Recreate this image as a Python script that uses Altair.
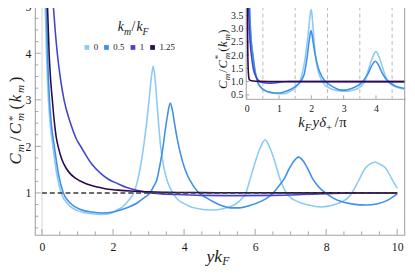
import altair as alt
import pandas as pd

# ---------------- data ----------------
k_labels = ["0", "0.5", "1", "1.25"]
k_colors = ["#8ccbf5", "#3f90e8", "#4444cc", "#2b0b48"]

# main panel: C_m/C*_m vs y k_F
main_x_k0 = [0.09, 0.13, 0.18, 0.22, 0.31, 0.42, 0.54, 0.74, 1.03, 1.35, 1.67, 1.95, 2.1, 2.25, 2.37, 2.48, 2.58, 2.69, 2.78, 2.87,
             2.96, 3.04, 3.09, 3.13, 3.17, 3.21, 3.27, 3.34, 3.43, 3.53, 3.68, 3.82, 3.98, 4.2, 4.45, 4.7, 4.95, 5.2, 5.4, 5.55,
             5.65, 5.73, 5.86, 6.0, 6.14, 6.28, 6.42, 6.56, 6.69, 6.88, 7.0, 7.15, 7.5, 7.85, 8.2, 8.49, 8.62, 8.72, 8.85, 8.95,
             9.09, 9.25, 9.39, 9.53, 9.69, 9.82, 10.0]
main_y_k0 = [5.0, 3.9, 3.0, 2.55, 1.98, 1.38, 1.0, 0.75, 0.61, 0.56, 0.54, 0.565, 0.63, 0.69, 0.78, 0.88, 1.0, 1.26, 1.6, 2.05,
             2.6, 3.2, 3.55, 3.72, 3.55, 3.2, 2.6, 2.0, 1.55, 1.25, 1.0, 0.86, 0.78, 0.70, 0.655, 0.635, 0.64, 0.68, 0.74, 0.82,
             0.9, 0.98, 1.30, 1.66, 1.96, 2.14, 1.96, 1.66, 1.32, 1.0, 0.9, 0.83, 0.74, 0.70, 0.74, 0.83, 0.9, 1.0, 1.17, 1.32,
             1.52, 1.63, 1.66, 1.61, 1.52, 1.34, 1.1]

main_x_k05 = [0.12, 0.16, 0.21, 0.26, 0.35, 0.47, 0.6, 0.8, 1.1, 1.4, 1.72, 2.0, 2.23, 2.45, 2.69, 2.88, 3.04, 3.15, 3.24, 3.32,
              3.40, 3.47, 3.54, 3.61, 3.67, 3.73, 3.81, 3.90, 4.02, 4.16, 4.29, 4.42, 4.62, 4.85, 5.05, 5.3, 5.55, 5.85, 6.19, 6.35,
              6.51, 6.67, 6.83, 6.96, 7.09, 7.22, 7.36, 7.48, 7.61, 7.78, 7.98, 8.2, 8.4, 8.75, 9.13, 9.45, 9.69, 9.85, 10.0]
main_y_k05 = [5.0, 3.9, 3.0, 2.5, 1.98, 1.38, 1.0, 0.78, 0.64, 0.59, 0.57, 0.59, 0.64, 0.7, 0.79, 0.9, 1.0, 1.15, 1.30, 1.6,
              1.95, 2.35, 2.7, 2.93, 2.78, 2.5, 2.15, 1.84, 1.52, 1.28, 1.12, 1.0, 0.9, 0.8, 0.73, 0.68, 0.68, 0.73, 0.83, 0.9,
              1.0, 1.15, 1.32, 1.52, 1.68, 1.77, 1.68, 1.52, 1.32, 1.14, 1.0, 0.89, 0.82, 0.76, 0.74, 0.77, 0.83, 0.9, 0.98]

main_x_k1 = [0.32, 0.37, 0.43, 0.52, 0.62, 0.8, 0.96, 1.12, 1.4, 1.65, 1.86, 2.13, 2.41, 2.7, 2.96, 3.3, 3.8, 4.5, 5.5, 6.5,
             7.3, 8.0, 9.0, 10.0]
main_y_k1 = [5.0, 4.5, 4.0, 3.45, 3.0, 2.5, 2.17, 1.96, 1.62, 1.42, 1.3, 1.2, 1.11, 1.05, 1.01, 0.985, 0.965, 0.948, 0.942, 0.948,
             0.965, 0.985, 0.997, 1.0]

main_x_k125 = [0.155, 0.2, 0.245, 0.29, 0.34, 0.4, 0.46, 0.56, 0.68, 0.8, 0.94, 1.15, 1.35, 1.6, 1.86, 2.13, 2.5, 3.0, 3.5, 4.5,
               6.0, 8.0, 10.0]
main_y_k125 = [5.0, 4.0, 3.4, 3.0, 2.58, 2.2, 1.98, 1.72, 1.53, 1.41, 1.32, 1.23, 1.17, 1.12, 1.08, 1.06, 1.04, 1.025, 1.015, 1.007,
               1.003, 1.001, 1.0]

# inset: C_m/C*_m vs k_F y delta_+ / pi
inset_x_k0 = [0.057, 0.083, 0.115, 0.14, 0.197, 0.267, 0.344, 0.471, 0.656, 0.859, 1.063, 1.241, 1.337, 1.432, 1.509, 1.579, 1.642,
              1.712, 1.77, 1.827, 1.884, 1.935, 1.967, 1.993, 2.018, 2.043, 2.082, 2.126, 2.184, 2.247, 2.343, 2.432, 2.534, 2.674,
              2.833, 2.992, 3.151, 3.31, 3.438, 3.533, 3.597, 3.648, 3.73, 3.82, 3.909, 3.998, 4.087, 4.176, 4.259, 4.38, 4.456,
              4.552, 4.775, 4.997]
inset_y_k0 = [5.0, 3.9, 3.0, 2.55, 1.98, 1.38, 1.0, 0.75, 0.61, 0.56, 0.54, 0.565, 0.63, 0.69, 0.78, 0.88, 1.0, 1.26, 1.6, 2.05,
              2.6, 3.2, 3.55, 3.72, 3.55, 3.2, 2.6, 2.0, 1.55, 1.25, 1.0, 0.86, 0.78, 0.70, 0.655, 0.635, 0.64, 0.68, 0.74, 0.82,
              0.9, 0.98, 1.30, 1.66, 1.96, 2.14, 1.96, 1.66, 1.32, 1.0, 0.9, 0.83, 0.74, 0.70]

inset_x_k05 = [0.066, 0.088, 0.116, 0.143, 0.193, 0.259, 0.331, 0.441, 0.606, 0.771, 0.948, 1.102, 1.229, 1.35, 1.482, 1.587,
               1.675, 1.736, 1.785, 1.829, 1.873, 1.912, 1.951, 1.989, 2.022, 2.055, 2.099, 2.149, 2.215, 2.292, 2.364, 2.435,
               2.546, 2.672, 2.783, 2.92, 3.058, 3.223, 3.411, 3.499, 3.587, 3.675, 3.763, 3.835, 3.907, 3.978, 4.055, 4.121,
               4.193, 4.287, 4.397, 4.518, 4.628, 4.821, 5.031]
inset_y_k05 = [5.0, 3.9, 3.0, 2.5, 1.98, 1.38, 1.0, 0.78, 0.64, 0.59, 0.57, 0.59, 0.64, 0.7, 0.79, 0.9, 1.0, 1.15, 1.30, 1.6,
               1.95, 2.35, 2.7, 2.93, 2.78, 2.5, 2.15, 1.84, 1.52, 1.28, 1.12, 1.0, 0.9, 0.8, 0.73, 0.68, 0.68, 0.73, 0.83, 0.9,
               1.0, 1.15, 1.32, 1.52, 1.68, 1.77, 1.68, 1.52, 1.32, 1.14, 1.0, 0.89, 0.82, 0.76, 0.74]

inset_x_k1 = [0.043, 0.05, 0.057, 0.069, 0.082, 0.106, 0.128, 0.149, 0.186, 0.219, 0.247, 0.283, 0.32, 0.36, 0.39, 0.44, 0.51,
              0.6, 0.73, 0.86, 0.97, 1.06, 1.2, 1.33, 4.9]
inset_y_k1 = [5.0, 4.5, 4.0, 3.45, 3.0, 2.5, 2.17, 1.96, 1.62, 1.42, 1.3, 1.2, 1.11, 1.05, 1.01, 0.985, 0.965, 0.948, 0.942,
              0.948, 0.965, 0.985, 0.997, 1.0, 1.0]

inset_x_k125 = [0.02, 0.027, 0.035, 0.045, 0.06, 0.08, 0.12, 0.2, 0.4, 1.0, 4.9]
inset_y_k125 = [5.0, 3.0, 2.0, 1.5, 1.2, 1.08, 1.04, 1.02, 1.01, 1.003, 1.0]

ref_x = [0, 10]
ref_y = 1

main_x_major = [0, 2, 4, 6, 8, 10]
main_x_minor = [0.5, 1, 1.5, 2.5, 3, 3.5, 4.5, 5, 5.5, 6.5, 7, 7.5, 8.5, 9, 9.5]
main_y_major = [1, 2, 3, 4, 5]
main_y_minor = [0.25, 0.5, 0.75, 1.25, 1.5, 1.75, 2.25, 2.5, 2.75, 3.25, 3.5, 3.75, 4.25, 4.5, 4.75]
inset_x_major = [0, 1, 2, 3, 4]
inset_y_major = [0.5, 1.0, 1.5, 2.0, 2.5, 3.0, 3.5]
inset_dash_x = [0.5, 1.5, 2.5, 3.5, 4.5]

# ---------------- layout ----------------
OX, OY = 35.45, 4.0          # page position of plot origin
W, H = 376.8, 232.75
IX0, IX1 = 215.05, 377.55     # inset x range (plot coords)
IY0, IY1 = 94.0, 0.0          # inset y range (plot coords)
FRAME = "#a3a3a3"
FONT = "Liberation Serif"
LBL = "#1a1a1a"

mx = alt.Scale(domain=[-0.2, 10.2], nice=False, zero=False)
my = alt.Scale(domain=[0.1, 5.0], nice=False, zero=False)
ix = alt.Scale(domain=[-0.03, 4.9], range=[IX0, IX1], nice=False, zero=False)
iy = alt.Scale(domain=[0.35, 3.83], range=[IY0, IY1], nice=False, zero=False)

AXM_X = alt.Axis(values=main_x_major, title=None, grid=False, domain=False, ticks=False, tickSize=0,
                 labelFont=FONT, labelFontSize=12, labelColor=LBL, labelPadding=7, labelFlush=False, orient="bottom")
AXM_Y = alt.Axis(values=main_y_major, title=None, grid=False, domain=False, ticks=False, tickSize=0,
                 labelFont=FONT, labelFontSize=12, labelColor=LBL, labelPadding=4, labelFlush=False, orient="left")
AXI_X = alt.Axis(values=inset_x_major, title=None, grid=False, domain=True, domainColor=FRAME, ticks=False, tickSize=0,
                 labelFont=FONT, labelFontSize=10, labelColor=LBL, labelPadding=5, labelFlush=False,
                 orient="bottom", offset=IY0 - H)
AXI_Y = alt.Axis(values=inset_y_major, format=".1f", title=None, grid=False, domain=True, domainColor=FRAME,
                 ticks=False, tickSize=0, labelFont=FONT, labelFontSize=10, labelColor=LBL, labelPadding=3,
                 labelFlush=False, orient="left", offset=-IX0)

LEG = alt.Legend(title=None, orient="none", legendX=48.5, legendY=37, direction="horizontal",
                 symbolType="square", symbolSize=5, symbolStrokeWidth=2.6, labelFont=FONT, labelFontSize=9,
                 labelColor=LBL, labelOffset=2.5, columnPadding=2)
CSCALE = alt.Scale(domain=k_labels, range=k_colors)


def txt(s, px, py, size, style="italic", angle=0, align="left", baseline="alphabetic"):
    return alt.Chart(pd.DataFrame({"t": [s]})).mark_text(
        font=FONT, fontSize=size, fontStyle=style, angle=angle, align=align, baseline=baseline, color=LBL
    ).encode(x=alt.value(px - OX), y=alt.value(py - OY), text="t:N")


def main_curve(xs, ys, k):
    df = pd.DataFrame({"x": xs, "y": ys, "k": [k] * len(xs)})
    return alt.Chart(df).mark_line(strokeWidth=1.6, interpolate="monotone", clip=True).encode(
        x=alt.X("x:Q", scale=mx, axis=AXM_X),
        y=alt.Y("y:Q", scale=my, axis=AXM_Y),
        color=alt.Color("k:N", scale=CSCALE, legend=LEG),
        order=alt.Order("x:Q"),
    )


def inset_curve(xs, ys, col):
    df = pd.DataFrame({"x": xs, "y": ys})
    return alt.Chart(df).mark_line(strokeWidth=1.6, interpolate="monotone", clip=True, color=col).encode(
        x=alt.X("x:Q", scale=ix, axis=AXI_X),
        y=alt.Y("y:Q", scale=iy, axis=AXI_Y),
        order=alt.Order("x:Q"),
    )


# ---------------- main panel ----------------
zero_line = alt.Chart(pd.DataFrame({"v": [0]})).mark_rule(color="#d4d4d4", strokeWidth=1).encode(
    x=alt.X("v:Q", scale=mx, axis=AXM_X), y=alt.value(0), y2=alt.value(H))

xt_major = alt.Chart(pd.DataFrame({"v": main_x_major})).mark_rule(color=FRAME).encode(
    x=alt.X("v:Q", scale=mx, axis=AXM_X), y=alt.value(H), y2=alt.value(H - 6))
xt_minor = alt.Chart(pd.DataFrame({"v": main_x_minor})).mark_rule(color=FRAME).encode(
    x=alt.X("v:Q", scale=mx, axis=AXM_X), y=alt.value(H), y2=alt.value(H - 3.5))
yt_major = alt.Chart(pd.DataFrame({"v": main_y_major})).mark_rule(color=FRAME).encode(
    y=alt.Y("v:Q", scale=my, axis=AXM_Y), x=alt.value(0), x2=alt.value(6))
yt_minor = alt.Chart(pd.DataFrame({"v": main_y_minor})).mark_rule(color=FRAME).encode(
    y=alt.Y("v:Q", scale=my, axis=AXM_Y), x=alt.value(0), x2=alt.value(3.5))

ref = alt.Chart(pd.DataFrame({"x0": [ref_x[0]], "x1": [ref_x[1]], "y": [ref_y]})).mark_rule(
    color="#3a3a3a", strokeWidth=1.6, strokeDash=[5, 3]).encode(
    x=alt.X("x0:Q", scale=mx, axis=AXM_X), x2="x1:Q", y=alt.Y("y:Q", scale=my, axis=AXM_Y))

texts = [
    # legend title  k_m / k_F
    txt("k", 120, 29, 14), txt("m", 126.2, 32.5, 10), txt("/", 134, 29, 14, style="normal"),
    txt("k", 139, 29, 14), txt("F", 145.3, 32.5, 10),
    # x title  y k_F
    txt("yk", 210.5, 264, 18), txt("F", 226.5, 268, 12),
    # main y title  C_m / C*_m (k_m)   (rotated)
    txt("C", 21, 165, 17, angle=270), txt("m", 24.5, 152.5, 11.5, angle=270),
    txt("/", 21, 141, 17, style="normal", angle=270), txt("C", 21, 134, 17, angle=270),
    txt("*", 16.5, 120.5, 11, style="normal", angle=270), txt("m", 24.5, 120.5, 11.5, angle=270),
    txt("(", 21, 109, 17, style="normal", angle=270), txt("k", 21, 101.5, 17, angle=270),
    txt("m", 24.5, 92, 11.5, angle=270), txt(")", 21, 81, 17, style="normal", angle=270),
    # inset x title  k_F y delta_+ / pi
    txt("k", 304, 127, 15), txt("F", 310.8, 130.5, 11), txt("y", 318.5, 127, 15), txt("δ", 325.5, 127, 15),
    txt("+", 332.5, 130.5, 11, style="normal"), txt("/", 341, 127, 15, style="normal"), txt("π", 346, 127, 15, style="normal"),
    # inset y title (rotated)
    txt("C", 231, 88, 13, angle=270), txt("m", 234.5, 79, 9, angle=270),
    txt("/", 231, 71.5, 13, style="normal", angle=270), txt("C", 231, 67, 13, angle=270),
    txt("*", 225, 57.5, 9, style="normal", angle=270), txt("m", 234.5, 57.5, 9, angle=270),
    txt("(", 231, 50, 13, style="normal", angle=270), txt("k", 231, 45, 13, angle=270),
    txt("m", 234.5, 38.5, 9, angle=270), txt(")", 231, 31.5, 13, style="normal", angle=270),
]

main = alt.layer(
    zero_line, xt_major, xt_minor, yt_major, yt_minor,
    main_curve(main_x_k0, main_y_k0, "0"),
    main_curve(main_x_k05, main_y_k05, "0.5"),
    main_curve(main_x_k1, main_y_k1, "1"),
    main_curve(main_x_k125, main_y_k125, "1.25"),
    ref,
    *texts,
)

# ---------------- inset ----------------
idash = alt.Chart(pd.DataFrame({"v": inset_dash_x})).mark_rule(color="#b8b8b8", strokeWidth=1, strokeDash=[4, 3]).encode(
    x=alt.X("v:Q", scale=ix, axis=AXI_X), y=alt.value(IY1), y2=alt.value(IY0))
ixt = alt.Chart(pd.DataFrame({"v": inset_x_major})).mark_rule(color=FRAME).encode(
    x=alt.X("v:Q", scale=ix, axis=AXI_X), y=alt.value(IY0), y2=alt.value(IY0 - 3.5))
iyt = alt.Chart(pd.DataFrame({"v": inset_y_major})).mark_rule(color=FRAME).encode(
    y=alt.Y("v:Q", scale=iy, axis=AXI_Y), x=alt.value(IX0), x2=alt.value(IX0 + 3.5))

inset = alt.layer(
    idash, ixt, iyt,
    inset_curve(inset_x_k0, inset_y_k0, k_colors[0]),
    inset_curve(inset_x_k05, inset_y_k05, k_colors[1]),
    inset_curve(inset_x_k1, inset_y_k1, k_colors[2]),
    inset_curve(inset_x_k125, inset_y_k125, k_colors[3]),
)

chart = alt.layer(main, inset).resolve_scale(x="independent", y="independent").properties(
    width=W, height=H,
    autosize=alt.AutoSizeParams(type="none"),
    padding={"left": OX - 8, "top": OY - 8, "right": 415 - 8 - (OX - 8) - W - 0.0, "bottom": 273 - 8 - (H + OY - 8)},
).configure_view(stroke=FRAME, strokeWidth=1.1)

chart.save("out.html", embed_options={"renderer": "svg", "actions": False})
